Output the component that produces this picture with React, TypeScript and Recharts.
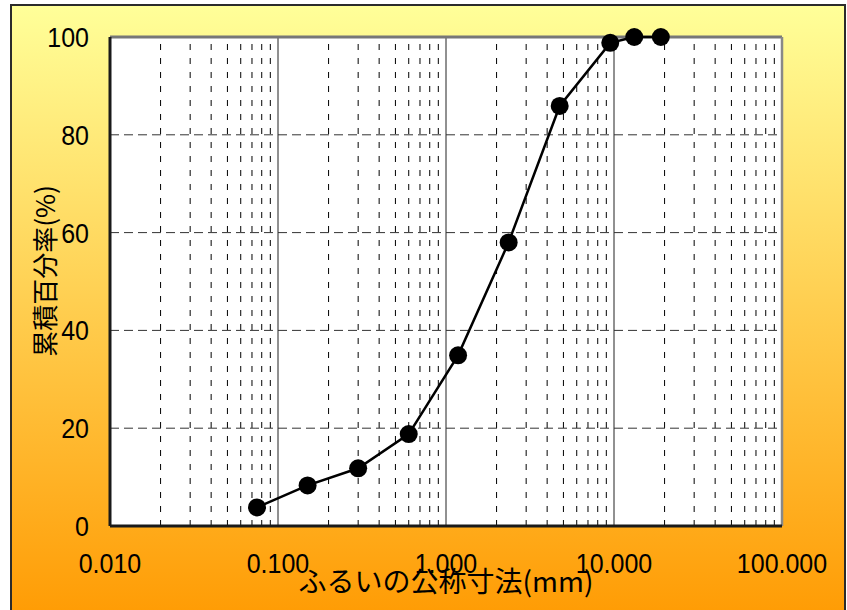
import React from 'react';
import { LineChart, Line, XAxis, YAxis, ReferenceLine, CartesianGrid, Label } from 'recharts';

// Sieve nominal sizes (mm) and cumulative passing percentage
const sieveSizes = [0.075, 0.15, 0.3, 0.6, 1.18, 2.36, 4.75, 9.5, 13.2, 19];
const passingPercent = [3.8, 8.3, 11.8, 18.8, 34.9, 58.0, 85.9, 98.8, 100, 100];

const xTicks = [0.01, 0.1, 1, 10, 100];
const xTickLabels = ['0.010', '0.100', '1.000', '10.000', '100.000'];
const yTicks = [0, 20, 40, 60, 80, 100];
const yGridValues = [20, 40, 60, 80];
const majorGridValues = [0.1, 1, 10];
const decades = [0.01, 0.1, 1, 10];
const minorMultipliers = [2, 3, 4, 5, 6, 7, 8, 9];

const xTitle = 'ふるいの公称寸法(mm)';
const yTitle = '累積百分率(%)';

const data = sieveSizes.map((s, i) => ({ size: s, pass: passingPercent[i] }));
const minorGridValues = decades.flatMap((d) => minorMultipliers.map((m) => +(d * m).toPrecision(3)));

const W = 847;
const H = 610;
const FONT = '"Liberation Sans", Arial, sans-serif';

const XTick = (props: any) => {
  const { x, payload } = props;
  const idx = xTicks.indexOf(payload.value);
  const label = idx >= 0 ? xTickLabels[idx] : String(payload.value);
  return (
    <g transform={`translate(${x},${573}) scale(1,1.12)`}>
      <text x={0} y={0} textAnchor="middle" fontSize={25} fontFamily={FONT} fill="#000">
        {label}
      </text>
    </g>
  );
};

const YTick = (props: any) => {
  const { y, payload } = props;
  return (
    <g transform={`translate(${89},${y + 10}) scale(1,1.12)`}>
      <text x={0} y={0} textAnchor="end" fontSize={25} fontFamily={FONT} fill="#000">
        {payload.value}
      </text>
    </g>
  );
};

export default function App() {
  return (
    <div style={{ position: 'absolute', left: 0, top: 0, width: W, height: H, overflow: 'hidden', background: '#fff' }}>
      <div
        style={{
          position: 'absolute',
          left: 10,
          top: 4,
          width: 836,
          height: 630,
          boxSizing: 'border-box',
          border: '2px solid #2b2b2b',
          background: 'linear-gradient(to bottom, #FFFF99 0%, #FF9900 100%)',
        }}
      />
      <div style={{ position: 'absolute', left: 0, top: 0 }}>
        <LineChart width={W} height={H} data={data} margin={{ top: 37, right: 65, bottom: 0, left: 0 }}>
          <CartesianGrid fill="#ffffff" horizontal={false} vertical={false} />
          {minorGridValues.map((v) => (
            <ReferenceLine key={'mn' + v} x={v} stroke="#000" strokeWidth={1} strokeDasharray="6 8" />
          ))}
          {majorGridValues.map((v) => (
            <ReferenceLine key={'mj' + v} x={v} stroke="#222" strokeWidth={1} />
          ))}
          {yGridValues.map((v) => (
            <ReferenceLine key={'h' + v} y={v} stroke="#333" strokeWidth={1} strokeDasharray="9 5" />
          ))}
          <ReferenceLine y={100} stroke="#777" strokeWidth={3} />
          <ReferenceLine x={100} stroke="#888" strokeWidth={2.5} />
          <XAxis
            dataKey="size"
            type="number"
            scale="log"
            domain={[0.01, 100]}
            ticks={xTicks}
            tickLine={false}
            tickSize={0}
            tickMargin={27}
            height={84}
            interval={0}
            axisLine={{ stroke: '#1a1a1a', strokeWidth: 3 }}
            tick={<XTick />}
          >
            <Label
              content={({ viewBox }: any) => (
                <text
                  x={viewBox.x + viewBox.width / 2}
                  y={592}
                  textAnchor="middle"
                  fontSize={28}
                  fontFamily='"Noto Sans CJK JP", sans-serif'
                  fill="#000"
                >
                  {xTitle}
                </text>
              )}
            />
          </XAxis>
          <YAxis
            type="number"
            domain={[0, 100]}
            ticks={yTicks}
            width={110}
            tickLine={false}
            tickSize={0}
            tickMargin={22}
            interval={0}
            axisLine={{ stroke: '#1a1a1a', strokeWidth: 3 }}
            tick={<YTick />}
          >
            <Label
              content={() => (
                <text
                  x={43}
                  y={271}
                  transform="rotate(-90, 43, 271)"
                  textAnchor="middle"
                  dominantBaseline="central"
                  fontSize={26}
                  fontFamily='"Noto Sans CJK JP", sans-serif'
                  fill="#000"
                >
                  {yTitle}
                </text>
              )}
            />
          </YAxis>
          <Line
            type="linear"
            dataKey="pass"
            stroke="#000"
            strokeWidth={2.5}
            dot={{ r: 9, fill: '#000', stroke: '#000', strokeWidth: 0 }}
            activeDot={false}
            isAnimationActive={false}
          />
        </LineChart>
      </div>
    </div>
  );
}
